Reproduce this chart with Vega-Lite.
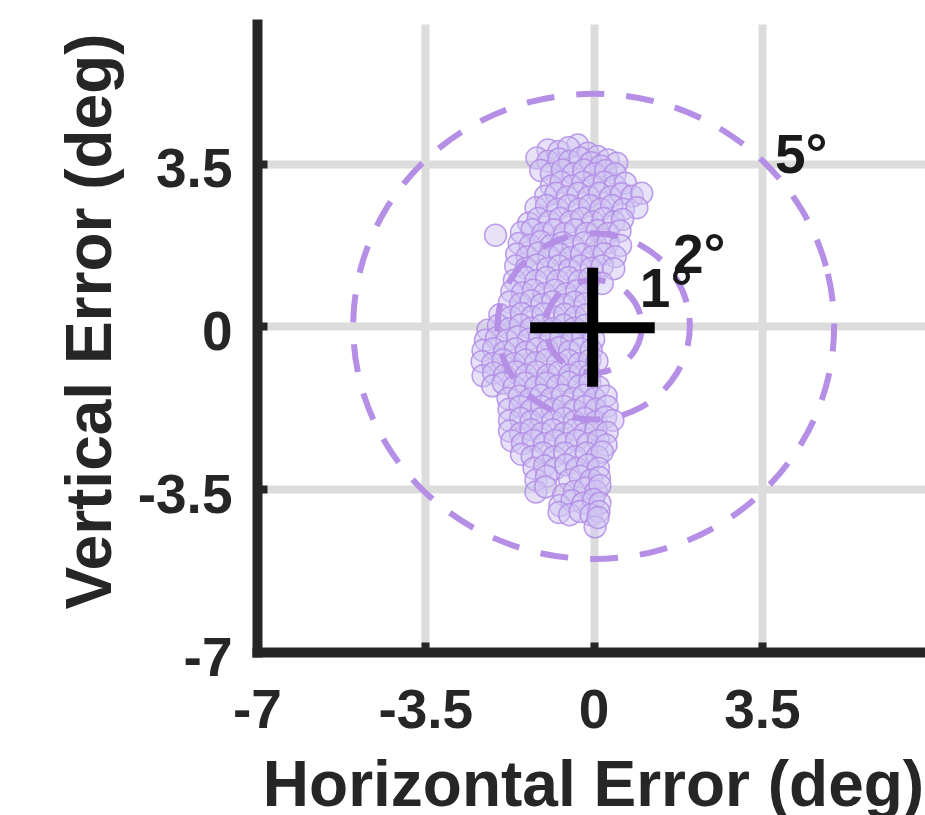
{
  "$schema": "https://vega.github.io/schema/vega-lite/v6.json",
  "width": 668,
  "height": 628,
  "autosize": {"type": "none"},
  "padding": {"left": 257, "top": 24, "right": 0, "bottom": 163},
  "background": "white",
  "config": {"view": {"stroke": null}, "font": "Liberation Sans"},
  "datasets": {
    "pts": [
      {"x":-0.33,"y":3.9},{"x":-0.95,"y":3.79},{"x":-0.72,"y":3.76},{"x":-0.52,"y":3.84},{"x":-0.12,"y":3.72},{"x":0.08,"y":3.65},
      {"x":-1.18,"y":3.62},{"x":-0.95,"y":3.55},{"x":-0.72,"y":3.6},{"x":-0.5,"y":3.55},{"x":-0.28,"y":3.62},{"x":-0.05,"y":3.52},{"x":0.3,"y":3.58},{"x":0.48,"y":3.51},{"x":0.15,"y":3.45},
      {"x":-1.1,"y":3.35},{"x":-0.88,"y":3.28},{"x":-0.65,"y":3.36},{"x":-0.42,"y":3.28},{"x":-0.2,"y":3.36},{"x":0.02,"y":3.28},{"x":0.25,"y":3.35},{"x":0.45,"y":3.28},
      {"x":-0.88,"y":3.02},{"x":-0.68,"y":3.1},{"x":-0.45,"y":3.02},{"x":-0.22,"y":3.1},{"x":0.0,"y":3.02},{"x":0.22,"y":3.1},{"x":0.45,"y":3.02},{"x":0.66,"y":3.08},
      {"x":-1.0,"y":2.8},{"x":-0.78,"y":2.86},{"x":-0.55,"y":2.78},{"x":-0.32,"y":2.86},{"x":-0.1,"y":2.78},{"x":0.12,"y":2.86},{"x":0.35,"y":2.78},{"x":0.58,"y":2.85},{"x":0.8,"y":2.8},{"x":1.0,"y":2.86},
      {"x":-1.2,"y":2.55},{"x":-0.98,"y":2.6},{"x":-0.75,"y":2.52},{"x":-0.52,"y":2.6},{"x":-0.3,"y":2.52},{"x":-0.08,"y":2.6},{"x":0.15,"y":2.52},{"x":0.38,"y":2.6},{"x":0.62,"y":2.52},{"x":0.9,"y":2.55},
      {"x":-1.35,"y":2.22},{"x":-1.15,"y":2.32},{"x":-0.92,"y":2.25},{"x":-0.7,"y":2.32},{"x":-0.48,"y":2.25},{"x":-0.25,"y":2.32},{"x":-0.02,"y":2.25},{"x":0.2,"y":2.32},{"x":0.42,"y":2.25},{"x":0.6,"y":2.3},
      {"x":-2.04,"y":1.96},{"x":-1.5,"y":2.02},{"x":-1.28,"y":2.08},{"x":-1.05,"y":2.0},{"x":-0.82,"y":2.08},{"x":-0.6,"y":2.0},{"x":-0.38,"y":2.08},{"x":-0.15,"y":2.0},{"x":0.08,"y":2.06},{"x":0.3,"y":2.0},{"x":0.55,"y":2.05},
      {"x":-1.55,"y":1.78},{"x":-1.32,"y":1.74},{"x":-1.1,"y":1.82},{"x":-0.88,"y":1.74},{"x":-0.65,"y":1.8},{"x":-0.42,"y":1.72},{"x":-0.2,"y":1.8},{"x":0.05,"y":1.74},{"x":0.3,"y":1.8},{"x":0.56,"y":1.74},
      {"x":-1.6,"y":1.55},{"x":-1.38,"y":1.5},{"x":-1.15,"y":1.58},{"x":-0.92,"y":1.5},{"x":-0.7,"y":1.55},{"x":-0.48,"y":1.48},{"x":-0.25,"y":1.55},{"x":-0.02,"y":1.5},{"x":0.22,"y":1.56},{"x":0.45,"y":1.5},
      {"x":-1.62,"y":1.3},{"x":-1.4,"y":1.25},{"x":-1.18,"y":1.32},{"x":-0.95,"y":1.25},{"x":-0.72,"y":1.3},{"x":-0.5,"y":1.22},{"x":-0.28,"y":1.3},{"x":-0.05,"y":1.25},{"x":0.18,"y":1.3},{"x":0.42,"y":1.24},
      {"x":-1.65,"y":0.99},{"x":-1.42,"y":1.05},{"x":-1.2,"y":0.98},{"x":-0.98,"y":1.05},{"x":-0.75,"y":0.98},{"x":-0.52,"y":1.05},{"x":-0.3,"y":0.97},{"x":-0.08,"y":1.03},{"x":0.18,"y":0.92},
      {"x":-1.7,"y":0.75},{"x":-1.48,"y":0.72},{"x":-1.25,"y":0.78},{"x":-1.02,"y":0.7},{"x":-0.8,"y":0.78},{"x":-0.58,"y":0.7},{"x":-0.35,"y":0.76},{"x":-0.15,"y":0.7},
      {"x":-1.75,"y":0.52},{"x":-1.52,"y":0.48},{"x":-1.3,"y":0.55},{"x":-1.08,"y":0.47},{"x":-0.85,"y":0.53},{"x":-0.62,"y":0.46},{"x":-0.4,"y":0.52},{"x":-0.18,"y":0.48},
      {"x":-1.95,"y":0.25},{"x":-1.72,"y":0.2},{"x":-1.5,"y":0.28},{"x":-1.28,"y":0.2},{"x":-1.05,"y":0.27},{"x":-0.82,"y":0.2},{"x":-0.6,"y":0.26},{"x":-0.38,"y":0.2},{"x":-0.15,"y":0.25},
      {"x":-2.2,"y":-0.08},{"x":-1.98,"y":0.02},{"x":-1.75,"y":-0.05},{"x":-1.52,"y":0.03},{"x":-1.3,"y":-0.04},{"x":-1.08,"y":0.02},{"x":-0.85,"y":-0.05},{"x":-0.62,"y":0.03},{"x":-0.4,"y":-0.04},{"x":-0.18,"y":0.02},
      {"x":-2.25,"y":-0.3},{"x":-2.02,"y":-0.25},{"x":-1.8,"y":-0.3},{"x":-1.58,"y":-0.22},{"x":-1.35,"y":-0.28},{"x":-1.12,"y":-0.22},{"x":-0.9,"y":-0.3},{"x":-0.68,"y":-0.24},{"x":-0.45,"y":-0.3},{"x":-0.22,"y":-0.22},{"x":0.0,"y":-0.28},
      {"x":-2.3,"y":-0.52},{"x":-2.08,"y":-0.48},{"x":-1.85,"y":-0.55},{"x":-1.62,"y":-0.48},{"x":-1.4,"y":-0.55},{"x":-1.18,"y":-0.48},{"x":-0.95,"y":-0.52},{"x":-0.72,"y":-0.46},{"x":-0.5,"y":-0.54},{"x":-0.28,"y":-0.48},{"x":-0.05,"y":-0.52},
      {"x":-2.32,"y":-0.76},{"x":-2.1,"y":-0.8},{"x":-1.88,"y":-0.72},{"x":-1.65,"y":-0.8},{"x":-1.42,"y":-0.72},{"x":-1.2,"y":-0.78},{"x":-0.98,"y":-0.72},{"x":-0.75,"y":-0.8},{"x":-0.52,"y":-0.73},{"x":-0.3,"y":-0.8},{"x":-0.08,"y":-0.73},{"x":0.07,"y":-0.75},
      {"x":-2.3,"y":-1.06},{"x":-2.08,"y":-1.0},{"x":-1.85,"y":-1.05},{"x":-1.62,"y":-0.98},{"x":-1.4,"y":-1.05},{"x":-1.18,"y":-0.98},{"x":-0.95,"y":-1.05},{"x":-0.72,"y":-0.98},{"x":-0.5,"y":-1.05},{"x":-0.28,"y":-0.98},{"x":-0.08,"y":-1.05},
      {"x":-2.1,"y":-1.28},{"x":-1.88,"y":-1.22},{"x":-1.65,"y":-1.3},{"x":-1.42,"y":-1.22},{"x":-1.2,"y":-1.3},{"x":-0.98,"y":-1.22},{"x":-0.75,"y":-1.28},{"x":-0.52,"y":-1.2},{"x":-0.3,"y":-1.28},{"x":-0.08,"y":-1.22},{"x":0.1,"y":-1.3},
      {"x":-1.78,"y":-1.55},{"x":-1.55,"y":-1.5},{"x":-1.32,"y":-1.56},{"x":-1.1,"y":-1.48},{"x":-0.88,"y":-1.55},{"x":-0.65,"y":-1.48},{"x":-0.42,"y":-1.55},{"x":-0.2,"y":-1.48},{"x":0.02,"y":-1.55},{"x":0.26,"y":-1.5},
      {"x":-1.76,"y":-1.78},{"x":-1.53,"y":-1.72},{"x":-1.3,"y":-1.8},{"x":-1.08,"y":-1.72},{"x":-0.85,"y":-1.78},{"x":-0.62,"y":-1.72},{"x":-0.4,"y":-1.8},{"x":-0.18,"y":-1.72},{"x":0.05,"y":-1.78},{"x":0.28,"y":-1.72},
      {"x":-1.75,"y":-2.03},{"x":-1.52,"y":-1.98},{"x":-1.3,"y":-2.05},{"x":-1.08,"y":-1.98},{"x":-0.85,"y":-2.05},{"x":-0.62,"y":-1.98},{"x":-0.4,"y":-2.05},{"x":-0.18,"y":-1.98},{"x":0.05,"y":-2.05},{"x":0.25,"y":-1.95},{"x":0.4,"y":-2.02},
      {"x":-1.75,"y":-2.25},{"x":-1.52,"y":-2.3},{"x":-1.3,"y":-2.22},{"x":-1.08,"y":-2.3},{"x":-0.85,"y":-2.22},{"x":-0.62,"y":-2.3},{"x":-0.4,"y":-2.22},{"x":-0.18,"y":-2.3},{"x":0.05,"y":-2.22},{"x":0.28,"y":-2.28},
      {"x":-1.7,"y":-2.46},{"x":-1.48,"y":-2.52},{"x":-1.25,"y":-2.45},{"x":-1.02,"y":-2.52},{"x":-0.8,"y":-2.45},{"x":-0.58,"y":-2.52},{"x":-0.35,"y":-2.45},{"x":-0.12,"y":-2.52},{"x":0.1,"y":-2.45},{"x":0.26,"y":-2.55},
      {"x":-1.5,"y":-2.75},{"x":-1.28,"y":-2.8},{"x":-1.05,"y":-2.72},{"x":-0.82,"y":-2.8},{"x":-0.6,"y":-2.72},{"x":-0.38,"y":-2.8},{"x":-0.15,"y":-2.72},{"x":0.08,"y":-2.8},{"x":0.18,"y":-2.7},
      {"x":-1.24,"y":-3.05},{"x":-1.02,"y":-3.0},{"x":-0.8,"y":-3.06},{"x":-0.58,"y":-2.98},{"x":-0.35,"y":-3.05},{"x":-0.12,"y":-2.98},{"x":0.1,"y":-3.05},
      {"x":-1.2,"y":-3.3},{"x":-0.98,"y":-3.22},{"x":-0.5,"y":-3.3},{"x":-0.28,"y":-3.22},{"x":-0.05,"y":-3.3},{"x":0.12,"y":-3.25},
      {"x":-1.2,"y":-3.56},{"x":-1.0,"y":-3.45},{"x":-0.62,"y":-3.62},{"x":-0.4,"y":-3.55},{"x":-0.18,"y":-3.48},{"x":0.05,"y":-3.55},{"x":0.13,"y":-3.42},
      {"x":-0.7,"y":-3.85},{"x":-0.45,"y":-3.75},{"x":-0.22,"y":-3.8},{"x":0.0,"y":-3.72},{"x":0.13,"y":-3.8},
      {"x":-0.72,"y":-4.0},{"x":-0.5,"y":-4.05},{"x":-0.28,"y":-3.98},{"x":-0.05,"y":-4.05},{"x":0.11,"y":-3.98},
      {"x":0.03,"y":-4.31},{"x":0.09,"y":-4.11}
    ],
    "circ": [
      {"c":"r5","i":0,"x":5,"y":0},{"c":"r5","i":1,"x":4.83,"y":1.294},{"c":"r5","i":2,"x":4.33,"y":2.5},{"c":"r5","i":3,"x":3.536,"y":3.536},
      {"c":"r5","i":4,"x":2.5,"y":4.33},{"c":"r5","i":5,"x":1.294,"y":4.83},{"c":"r5","i":6,"x":0,"y":5},{"c":"r5","i":7,"x":-1.294,"y":4.83},
      {"c":"r5","i":8,"x":-2.5,"y":4.33},{"c":"r5","i":9,"x":-3.536,"y":3.536},{"c":"r5","i":10,"x":-4.33,"y":2.5},{"c":"r5","i":11,"x":-4.83,"y":1.294},
      {"c":"r5","i":12,"x":-5,"y":0},{"c":"r5","i":13,"x":-4.83,"y":-1.294},{"c":"r5","i":14,"x":-4.33,"y":-2.5},{"c":"r5","i":15,"x":-3.536,"y":-3.536},
      {"c":"r5","i":16,"x":-2.5,"y":-4.33},{"c":"r5","i":17,"x":-1.294,"y":-4.83},{"c":"r5","i":18,"x":0,"y":-5},{"c":"r5","i":19,"x":1.294,"y":-4.83},
      {"c":"r5","i":20,"x":2.5,"y":-4.33},{"c":"r5","i":21,"x":3.536,"y":-3.536},{"c":"r5","i":22,"x":4.33,"y":-2.5},{"c":"r5","i":23,"x":4.83,"y":-1.294},
      {"c":"r2","i":0,"x":2,"y":0},{"c":"r2","i":1,"x":1.932,"y":0.518},{"c":"r2","i":2,"x":1.732,"y":1},{"c":"r2","i":3,"x":1.414,"y":1.414},
      {"c":"r2","i":4,"x":1,"y":1.732},{"c":"r2","i":5,"x":0.518,"y":1.932},{"c":"r2","i":6,"x":0,"y":2},{"c":"r2","i":7,"x":-0.518,"y":1.932},
      {"c":"r2","i":8,"x":-1,"y":1.732},{"c":"r2","i":9,"x":-1.414,"y":1.414},{"c":"r2","i":10,"x":-1.732,"y":1},{"c":"r2","i":11,"x":-1.932,"y":0.518},
      {"c":"r2","i":12,"x":-2,"y":0},{"c":"r2","i":13,"x":-1.932,"y":-0.518},{"c":"r2","i":14,"x":-1.732,"y":-1},{"c":"r2","i":15,"x":-1.414,"y":-1.414},
      {"c":"r2","i":16,"x":-1,"y":-1.732},{"c":"r2","i":17,"x":-0.518,"y":-1.932},{"c":"r2","i":18,"x":0,"y":-2},{"c":"r2","i":19,"x":0.518,"y":-1.932},
      {"c":"r2","i":20,"x":1,"y":-1.732},{"c":"r2","i":21,"x":1.414,"y":-1.414},{"c":"r2","i":22,"x":1.732,"y":-1},{"c":"r2","i":23,"x":1.932,"y":-0.518},
      {"c":"r1","i":0,"x":1,"y":0},{"c":"r1","i":1,"x":0.966,"y":0.259},{"c":"r1","i":2,"x":0.866,"y":0.5},{"c":"r1","i":3,"x":0.707,"y":0.707},
      {"c":"r1","i":4,"x":0.5,"y":0.866},{"c":"r1","i":5,"x":0.259,"y":0.966},{"c":"r1","i":6,"x":0,"y":1},{"c":"r1","i":7,"x":-0.259,"y":0.966},
      {"c":"r1","i":8,"x":-0.5,"y":0.866},{"c":"r1","i":9,"x":-0.707,"y":0.707},{"c":"r1","i":10,"x":-0.866,"y":0.5},{"c":"r1","i":11,"x":-0.966,"y":0.259},
      {"c":"r1","i":12,"x":-1,"y":0},{"c":"r1","i":13,"x":-0.966,"y":-0.259},{"c":"r1","i":14,"x":-0.866,"y":-0.5},{"c":"r1","i":15,"x":-0.707,"y":-0.707},
      {"c":"r1","i":16,"x":-0.5,"y":-0.866},{"c":"r1","i":17,"x":-0.259,"y":-0.966},{"c":"r1","i":18,"x":0,"y":-1},{"c":"r1","i":19,"x":0.259,"y":-0.966},
      {"c":"r1","i":20,"x":0.5,"y":-0.866},{"c":"r1","i":21,"x":0.707,"y":-0.707},{"c":"r1","i":22,"x":0.866,"y":-0.5},{"c":"r1","i":23,"x":0.966,"y":-0.259}
    ],
    "cross": [{"cx":-0.02,"cy":-0.03,"xlo":-1.32,"xhi":1.27,"ylo":-1.3,"yhi":1.26}],
    "labels": [
      {"t":"5°","x":3.77,"y":3.3},
      {"t":"2°","x":1.65,"y":1.15},
      {"t":"1°","x":0.96,"y":0.42}
    ]
  },
  "layer": [
    {
      "data": {"name": "pts"},
      "mark": {"type": "circle", "size": 480, "fill": "#d0c5f2", "fillOpacity": 0.5, "stroke": "#b38de6", "strokeWidth": 1.5, "strokeOpacity": 0.85, "opacity": 1},
      "encoding": {
        "x": {
          "field": "x", "type": "quantitative", "title": "Horizontal Error (deg)",
          "scale": {"domain": [-7, 6.89], "nice": false, "zero": false},
          "axis": {
            "title": "Horizontal Error (deg)",
            "values": [-7, -3.5, 0, 3.5, 7],
            "labelExpr": "'' + datum.value",
            "grid": true, "gridColor": "#dcdcdc", "gridWidth": 8, "gridOpacity": 1,
            "domain": true, "domainColor": "#262626", "domainWidth": 10, "domainCap": "square",
            "ticks": true, "tickSize": -10, "tickWidth": 8, "tickColor": "#262626",
            "labelFont": "Liberation Sans", "labelFontWeight": "bold", "labelFontSize": 55, "labelColor": "#262626",
            "labelPadding": 42, "labelFlush": false, "labelOverlap": false, "labelBound": false,
            "titleFont": "Liberation Sans", "titleFontWeight": "bold", "titleFontSize": 64, "titleColor": "#262626",
            "titleBaseline": "alphabetic", "titleY": 153, "titleX": 336, "titleAlign": "center", "titleAnchor": "middle"
          }
        },
        "y": {
          "field": "y", "type": "quantitative", "title": "Vertical Error (deg)",
          "scale": {"domain": [-7, 6.5], "nice": false, "zero": false},
          "axis": {
            "title": "Vertical Error (deg)",
            "values": [-7, -3.5, 0, 3.5],
            "labelExpr": "'' + datum.value",
            "grid": true, "gridColor": "#dcdcdc", "gridWidth": 8, "gridOpacity": 1,
            "domain": true, "domainColor": "#262626", "domainWidth": 10, "domainCap": "square",
            "ticks": true, "tickSize": -10, "tickWidth": 8, "tickColor": "#262626",
            "labelFont": "Liberation Sans", "labelFontWeight": "bold", "labelFontSize": 55, "labelColor": "#262626",
            "labelPadding": 35, "labelOffset": 6, "labelFlush": false, "labelOverlap": false, "labelBound": false,
            "titleFont": "Liberation Sans", "titleFontWeight": "bold", "titleFontSize": 64, "titleColor": "#262626",
            "titleBaseline": "alphabetic", "titleAngle": -90, "titleX": -147, "titleY": 297, "titleAlign": "center", "titleAnchor": "middle"
          }
        }
      }
    },
    {
      "data": {"name": "circ"},
      "mark": {"type": "line", "interpolate": "cardinal-closed", "color": "#b58ee6", "strokeWidth": 6, "strokeDash": [28, 22], "strokeCap": "butt"},
      "encoding": {
        "x": {"field": "x", "type": "quantitative", "title": "Horizontal Error (deg)", "scale": {"domain": [-7, 6.89], "nice": false, "zero": false}},
        "y": {"field": "y", "type": "quantitative", "title": "Vertical Error (deg)", "scale": {"domain": [-7, 6.5], "nice": false, "zero": false}},
        "detail": {"field": "c", "type": "nominal"},
        "order": {"field": "i", "type": "quantitative"}
      }
    },
    {
      "data": {"name": "cross"},
      "mark": {"type": "rule", "color": "#000000", "strokeWidth": 11, "strokeCap": "butt"},
      "encoding": {
        "x": {"field": "xlo", "type": "quantitative", "title": "Horizontal Error (deg)", "scale": {"domain": [-7, 6.89], "nice": false, "zero": false}},
        "x2": {"field": "xhi"},
        "y": {"field": "cy", "type": "quantitative", "title": "Vertical Error (deg)", "scale": {"domain": [-7, 6.5], "nice": false, "zero": false}}
      }
    },
    {
      "data": {"name": "cross"},
      "mark": {"type": "rule", "color": "#000000", "strokeWidth": 11, "strokeCap": "butt"},
      "encoding": {
        "x": {"field": "cx", "type": "quantitative", "title": "Horizontal Error (deg)", "scale": {"domain": [-7, 6.89], "nice": false, "zero": false}},
        "y": {"field": "ylo", "type": "quantitative", "title": "Vertical Error (deg)", "scale": {"domain": [-7, 6.5], "nice": false, "zero": false}},
        "y2": {"field": "yhi"}
      }
    },
    {
      "data": {"name": "labels"},
      "mark": {"type": "text", "align": "left", "baseline": "alphabetic", "font": "Liberation Sans", "fontWeight": "bold", "fontSize": 55, "color": "#1a1a1a"},
      "encoding": {
        "x": {"field": "x", "type": "quantitative", "title": "Horizontal Error (deg)", "scale": {"domain": [-7, 6.89], "nice": false, "zero": false}},
        "y": {"field": "y", "type": "quantitative", "title": "Vertical Error (deg)", "scale": {"domain": [-7, 6.5], "nice": false, "zero": false}},
        "text": {"field": "t", "type": "nominal"}
      }
    }
  ]
}
